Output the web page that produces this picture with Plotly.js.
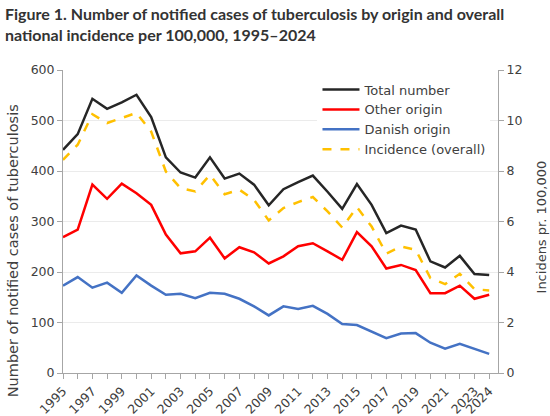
<!DOCTYPE html>
<html>
<head>
<meta charset="utf-8">
<script src="https://cdn.plot.ly/plotly-3.0.1.min.js"></script>
<style>
  html, body { margin: 0; padding: 0; background: #fff; }
  #chart { width: 550px; height: 416px; }
</style>
</head>
<body>
<div id="chart"></div>
<script>
// ── Data ─────────────────────────────────────────────────────────────
const years = [1995, 1996, 1997, 1998, 1999, 2000, 2001, 2002, 2003, 2004,
               2005, 2006, 2007, 2008, 2009, 2010, 2011, 2012, 2013, 2014,
               2015, 2016, 2017, 2018, 2019, 2020, 2021, 2022, 2023, 2024];
const totalNumber = [442, 473, 543, 523, 536, 551, 507, 427, 397, 387,
                     427, 385, 395, 373, 332, 364, 378, 391, 359, 325,
                     374, 333, 277, 292, 284, 221, 209, 232, 196, 194];
const otherOrigin = [269, 284, 373, 345, 375, 356, 333, 274, 237, 241,
                     268, 227, 249, 239, 217, 231, 251, 257, 241, 224,
                     279, 251, 207, 214, 204, 158, 158, 173, 147, 155];
const danishOrigin = [173, 190, 169, 179, 159, 193, 173, 155, 157, 148,
                      159, 157, 147, 132, 114, 132, 127, 133, 117, 97,
                      95, 82, 69, 78, 79, 60, 48, 58, 48, 38];
const incidence = [8.44, 9.04, 10.25, 9.90, 10.10, 10.30, 9.56, 7.98, 7.32, 7.19,
                   7.85, 7.08, 7.26, 6.86, 6.04, 6.53, 6.77, 6.97, 6.40, 5.76,
                   6.57, 5.80, 4.73, 5.01, 4.88, 3.76, 3.52, 3.93, 3.32, 3.27];
const labelYears = [1995, 1997, 1999, 2001, 2003, 2005, 2007, 2009, 2011,
                    2013, 2015, 2017, 2019, 2021, 2023, 2024];

const FONT = 'DejaVu Sans';
const TEXT = '#404040';
const AXIS = '#a6a6a6';

function lineTrace(y, name, color, extra) {
    return Object.assign({
        x: years, y: y, name: name,
        type: 'scatter', mode: 'lines',
        line: { color: color, width: 2.5 },
        hoverinfo: 'x+y'
    }, extra || {});
}

const traces = [
    lineTrace(totalNumber, 'Total number', '#262626'),
    lineTrace(otherOrigin, 'Other origin', '#ff0000'),
    lineTrace(danishOrigin, 'Danish origin', '#4472c4'),
    lineTrace(incidence, 'Incidence (overall)', '#ffc000',
              { yaxis: 'y2', line: { color: '#ffc000', width: 2.5, dash: 'dash' } })
];

const layout = {
    width: 550, height: 416,
    margin: { l: 63, r: 52, t: 70, b: 43 },
    paper_bgcolor: '#fff', plot_bgcolor: '#fff',
    font: { family: FONT, size: 12, color: TEXT },
    xaxis: {
        range: [1995, 2024.6],
        tickmode: 'array', tickvals: labelYears, ticktext: labelYears.map(String),
        tickangle: -45,
        ticks: 'outside', ticklen: 5, tickcolor: AXIS,
        minor: { ticks: 'outside', dtick: 1, tick0: 1995, ticklen: 5, tickcolor: AXIS, showgrid: false },
        showline: true, linecolor: AXIS, linewidth: 1,
        showgrid: false, zeroline: false,
        tickfont: { size: 12.5, color: TEXT }
    },
    yaxis: {
        range: [0, 600], dtick: 100,
        ticks: 'outside', ticklen: 5, tickcolor: AXIS,
        showline: true, linecolor: AXIS, linewidth: 1,
        gridcolor: '#ebebeb', zeroline: false,
        tickfont: { size: 12.5, color: TEXT }
    },
    yaxis2: {
        range: [0, 12], dtick: 2, overlaying: 'y', side: 'right',
        ticks: 'outside', ticklen: 5, tickcolor: AXIS,
        showline: true, linecolor: AXIS, linewidth: 1,
        showgrid: false, zeroline: false,
        tickfont: { size: 12.5, color: TEXT }
    },
    showlegend: true,
    legend: {
        x: 0.585, xanchor: 'left', y: 0.985, yanchor: 'top',
        bgcolor: '#fff', borderwidth: 0,
        itemwidth: 37,
        font: { size: 13, color: TEXT },
        tracegroupgap: 0
    },
    annotations: [
        {
            // figure title, placed as a paper annotation so both lines stay in view
            text: '<b>Figure 1. Number of notified cases of tuberculosis by origin and overall<br>national incidence per 100,000, 1995\u20132024</b>',
            xref: 'paper', yref: 'paper', x: -0.138, y: 1.225,
            xanchor: 'left', yanchor: 'top', align: 'left',
            showarrow: false,
            font: { family: 'Lato', size: 16, color: '#333' }
        },
        {
            text: 'Number of notified cases of tuberculosis',
            xref: 'paper', yref: 'paper', x: -0.115, y: 0.405,
            xanchor: 'center', yanchor: 'middle', textangle: -90,
            showarrow: false, font: { size: 14.5, color: TEXT }
        },
        {
            text: 'Incidens pr. 100,000',
            xref: 'paper', yref: 'paper', x: 1.1, y: 0.482,
            xanchor: 'center', yanchor: 'middle', textangle: -90,
            showarrow: false, font: { size: 13, color: TEXT }
        }
    ]
};

Plotly.newPlot('chart', traces, layout, { staticPlot: true });
</script>
</body>
</html>
